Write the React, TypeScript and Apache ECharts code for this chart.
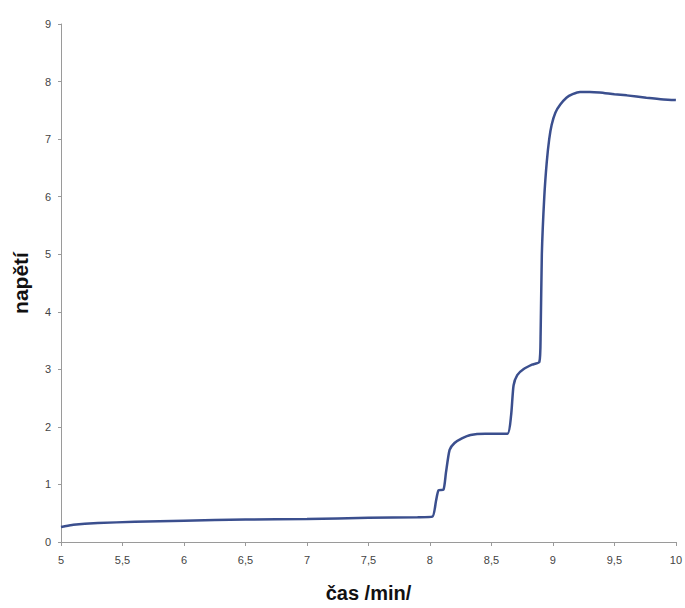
import React, { useEffect, useRef } from "react";
import * as echarts from "echarts";

const timeMin: number[] = [
  5.0, 5.02, 5.1, 5.3, 5.6, 6.0, 6.5, 7.0, 7.5, 7.9, 8.02,
  8.05, 8.07, 8.11, 8.13, 8.16, 8.2, 8.26, 8.33, 8.45, 8.63,
  8.66, 8.68, 8.71, 8.76, 8.83, 8.89, 8.9, 8.91, 8.93, 8.95,
  8.97, 8.99, 9.02, 9.06, 9.11, 9.16, 9.22, 9.3, 9.38, 9.5,
  9.6, 9.76, 9.9, 10.0,
];
const voltage: number[] = [
  0.26, 0.27, 0.3, 0.33, 0.35, 0.37, 0.39, 0.4, 0.42, 0.43, 0.44,
  0.72, 0.9, 0.91, 1.2, 1.6, 1.72, 1.8, 1.86, 1.88, 1.88,
  2.2, 2.72, 2.9, 3.0, 3.08, 3.13, 3.6, 5.0, 6.0, 6.6,
  7.0, 7.25, 7.46, 7.6, 7.72, 7.78, 7.82, 7.82, 7.81, 7.78,
  7.76, 7.72, 7.69, 7.68,
];
const xTitle = "čas /min/";
const yTitle = "napětí";

export default function App() {
  const ref = useRef<HTMLDivElement>(null);
  useEffect(() => {
    document.body.style.margin = "0";
    if (!ref.current) return;
    const chart = echarts.init(ref.current, null, { renderer: "svg" });
    const fmt = (v: number) => String(v).replace(".", ",");
    chart.setOption({
      animation: false,
      backgroundColor: "#ffffff",
      grid: { left: 61, right: 9, top: 24, bottom: 64 },
      xAxis: {
        type: "value",
        min: 5,
        max: 10,
        interval: 0.5,
        name: xTitle,
        nameLocation: "middle",
        nameGap: 41,
        nameTextStyle: { fontFamily: "Liberation Sans", fontWeight: "bold", fontSize: 20, color: "#111" },
        axisLine: { lineStyle: { color: "#9a9a9a", width: 1 } },
        axisTick: { show: true, length: 4, lineStyle: { color: "#9a9a9a" } },
        axisLabel: { formatter: fmt, fontFamily: "Liberation Sans", fontSize: 11, color: "#444", margin: 12 },
        splitLine: { show: false },
      },
      yAxis: {
        type: "value",
        min: 0,
        max: 9,
        interval: 1,
        name: yTitle,
        nameLocation: "middle",
        nameGap: 30,
        nameRotate: 90,
        nameTextStyle: { fontFamily: "Liberation Sans", fontWeight: "bold", fontSize: 21, color: "#111" },
        axisLine: { show: true, lineStyle: { color: "#9a9a9a", width: 1 } },
        axisTick: { show: true, length: 3, lineStyle: { color: "#9a9a9a" } },
        axisLabel: { fontFamily: "Liberation Sans", fontSize: 11, color: "#444", margin: 10 },
        splitLine: { show: false },
      },
      series: [
        {
          type: "line",
          data: timeMin.map((t, i) => [t, voltage[i]]),
          showSymbol: false,
          smooth: 0.2,
          lineStyle: { color: "#3b4f8e", width: 2.5 },
        },
      ],
    });
    return () => chart.dispose();
  }, []);
  return <div ref={ref} style={{ width: 685, height: 608 }} />;
}
